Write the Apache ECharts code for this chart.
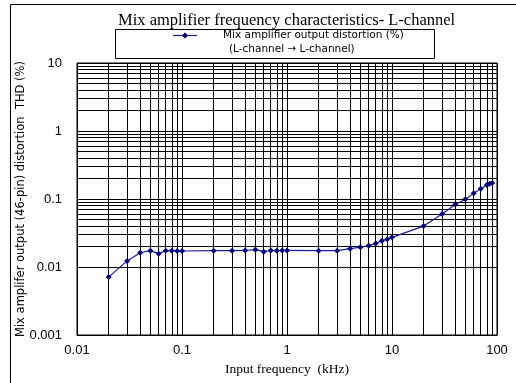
<!DOCTYPE html>
<html>
<head>
<meta charset="utf-8">
<script src="https://cdn.jsdelivr.net/npm/echarts@6/dist/echarts.min.js"></script>
<style>html,body{margin:0;padding:0;background:#fff}#c{width:516px;height:383px}</style>
</head>
<body>
<div id="c"></div>
<script>
const freqKHz = [0.02,0.03,0.04,0.05,0.06,0.07,0.08,0.09,0.1,0.2,0.3,0.4,0.5,0.6,0.7,0.8,0.9,1,2,3,4,5,6,7,8,9,10,20,30,40,50,60,70,80,85,90];
const thdPct  = [0.0071,0.0123,0.0162,0.0174,0.0157,0.0174,0.0174,0.0172,0.0172,0.0174,0.0174,0.0175,0.018,0.0168,0.0175,0.0174,0.0175,0.0175,0.0174,0.0174,0.0186,0.0195,0.0206,0.0222,0.0244,0.0255,0.0273,0.040,0.060,0.083,0.099,0.121,0.142,0.161,0.168,0.172];
const xTickLabels = ['0.01','0.1','1','10','100'];
const yTickLabels = ['0.001','0.01','0.1','1','10'];
const xDecades = [0.01,0.1,1,10];
const yDecades = [0.001,0.01,0.1,1];
const minorSteps = [2,3,4,5,6,7,8,9];

const titleText = 'Mix amplifier frequency characteristics- L-channel';
const seriesName = 'Mix amplifier output distortion (%)';
const seriesSub = '(L-channel \u2192 L-channel)';
const xName = 'Input frequency  (kHz)';
const yName = 'Mix amplifer output (46-pin) distortion  THD (%)';

const chart = echarts.init(document.getElementById('c'), null, {renderer: 'canvas'});
const pairs = freqKHz.map((f, i) => [f, thdPct[i]]);
const xMinor = [], yMinor = [];
xDecades.forEach(d => minorSteps.forEach(m => xMinor.push({xAxis: +(d * m).toPrecision(3)})));
yDecades.forEach(d => minorSteps.forEach(m => yMinor.push({yAxis: +(d * m).toPrecision(3)})));

chart.setOption({
  animation: false,
  backgroundColor: '#fff',
  title: {
    text: titleText, left: 113, top: 7,
    textStyle: {fontFamily: 'Liberation Serif', fontSize: 16.5, fontWeight: 'normal', color: '#000'}
  },
  grid: {left: 77, top: 63, right: 19, bottom: 48, show: true, borderColor: '#000', borderWidth: 1, backgroundColor: '#fff'},
  xAxis: {
    type: 'log', logBase: 10, min: 0.01, max: 100, splitNumber: 4,
    name: xName, nameLocation: 'middle', nameGap: 27, nameMoveOverlap: false,
    nameTextStyle: {fontFamily: 'Liberation Serif', fontSize: 13.5, color: '#000'},
    axisLine: {show: true, lineStyle: {color: '#000'}},
    axisTick: {show: false},
    splitLine: {show: true, lineStyle: {color: '#000', width: 1}},
    axisLabel: {
      color: '#000', fontFamily: 'Liberation Sans', fontSize: 13, margin: 9,
      formatter: v => xTickLabels[Math.round(Math.log10(v)) + 2] || ''
    }
  },
  yAxis: {
    type: 'log', logBase: 10, min: 0.001, max: 10, splitNumber: 4,
    name: yName, nameLocation: 'middle', nameGap: 50, nameRotate: 90, nameMoveOverlap: false,
    nameTextStyle: {fontFamily: 'DejaVu Sans', fontSize: 11.5, color: '#000'},
    axisLine: {show: true, lineStyle: {color: '#000'}},
    axisTick: {show: false},
    splitLine: {show: true, lineStyle: {color: '#000', width: 1}},
    axisLabel: {
      color: '#000', fontFamily: 'Liberation Sans', fontSize: 13, margin: 15,
      formatter: v => yTickLabels[Math.round(Math.log10(v)) + 3] || ''
    }
  },
  graphic: [
    {type: 'rect', shape: {x: 10.5, y: 4.5, width: 700, height: 600}, style: {fill: null, stroke: '#000', lineWidth: 1}, silent: true, z: 0},
    {type: 'rect', shape: {x: 115.5, y: 29.5, width: 319, height: 29}, style: {fill: '#fff', stroke: '#000', lineWidth: 1}, z: 10},
    {type: 'line', shape: {x1: 173, y1: 35.5, x2: 197, y2: 35.5}, style: {stroke: '#1a1aa0', lineWidth: 1.2}, z: 11},
    {type: 'polygon', shape: {points: [[185, 32.5], [188, 35.5], [185, 38.5], [182, 35.5]]}, style: {fill: '#000080'}, z: 12},
    {type: 'text', left: 223, top: 30, style: {text: seriesName, font: '10.5px "DejaVu Sans"', fill: '#000'}, z: 12},
    {type: 'text', left: 229, top: 44, style: {text: seriesSub, font: '10.5px "DejaVu Sans"', fill: '#000'}, z: 12}
  ],
  series: [
    {
      name: 'grid', type: 'line', data: [[0.01, 0.001]], showSymbol: false, silent: true, z: 1,
      lineStyle: {opacity: 0},
      markLine: {
        silent: true, symbol: ['none', 'none'], label: {show: false}, animation: false,
        lineStyle: {type: 'solid', color: '#000', width: 1},
        emphasis: {disabled: true},
        data: xMinor.concat(yMinor)
      }
    },
    {
      name: seriesName, type: 'line', data: pairs, z: 5,
      symbol: 'diamond', symbolSize: 6,
      lineStyle: {color: '#1a1aa0', width: 1.2},
      itemStyle: {color: '#000080'}
    }
  ]
});
</script>
</body>
</html>
